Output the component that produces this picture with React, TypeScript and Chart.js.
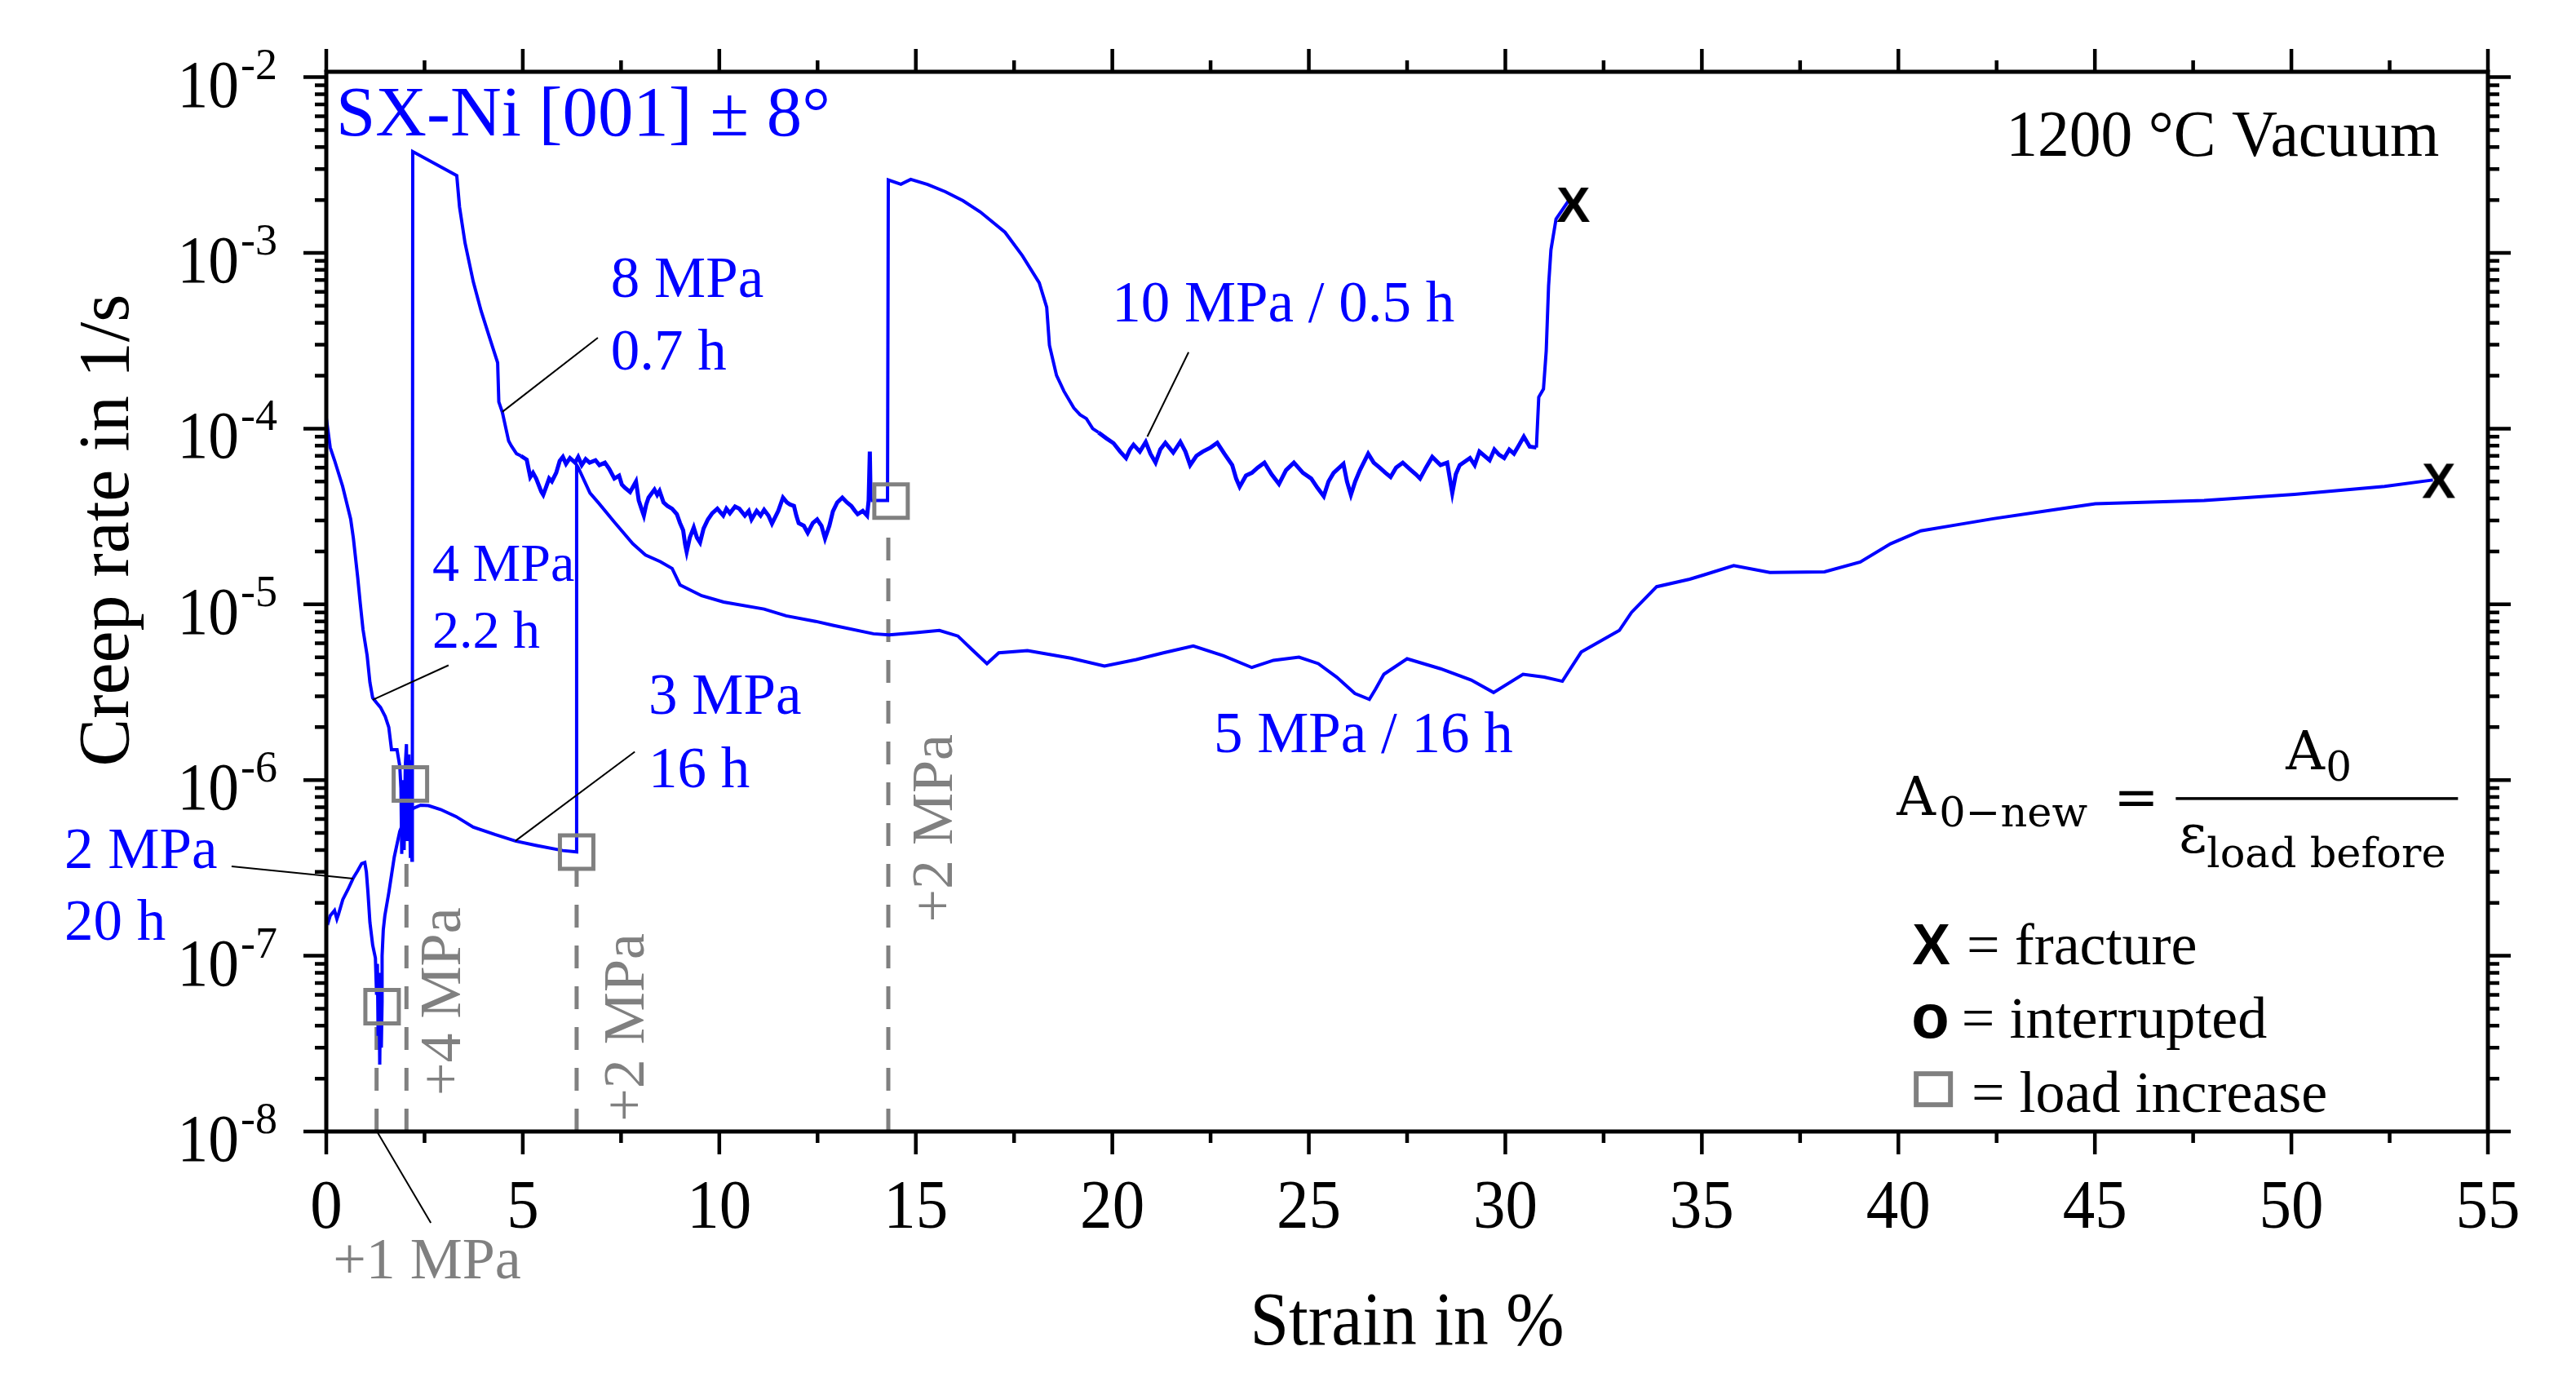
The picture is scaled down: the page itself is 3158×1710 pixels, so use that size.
import React, { useEffect, useRef } from "react";
import { Chart, registerables } from "chart.js";

Chart.register(...registerables);

// ---------------- data (strain in %, creep rate in 1/s) ----------------
// Specimen A: 2 MPa -> +1 MPa (3 MPa) -> +2 MPa (5 MPa)
const A_2MPa: [number, number][] = [
  [0, 1.45e-7], [0, 1.6e-7], [0.05, 1.55e-7], [0.1, 1.69e-7], [0.21, 1.81e-7], [0.27, 1.62e-7],
  [0.31, 1.72e-7], [0.42, 2.09e-7], [0.55, 2.38e-7], [0.69, 2.78e-7], [0.8, 3.05e-7], [0.9, 3.35e-7],
  [0.98, 3.4e-7], [1.02, 3.0e-7], [1.06, 2.3e-7], [1.11, 1.55e-7], [1.18, 1.15e-7], [1.25, 9.7e-8],
  [1.28, 6.0e-8], [1.3, 9.0e-8], [1.32, 3.5e-8], [1.34, 8.0e-8], [1.36, 2.4e-8], [1.38, 6.5e-8],
  [1.4, 3.0e-8], [1.42, 5.5e-8],
];
const A_3MPa: [number, number][] = [
  [1.42, 1.0e-7], [1.45, 1.4e-7], [1.49, 1.69e-7], [1.59, 2.28e-7], [1.73, 3.65e-7], [1.87, 5.1e-7],
  [2.01, 6.1e-7], [2.21, 6.9e-7], [2.4, 7.2e-7], [2.6, 7.15e-7], [2.91, 6.8e-7], [3.3, 6.2e-7],
  [3.74, 5.4e-7], [4.29, 4.9e-7], [4.81, 4.5e-7], [5.33, 4.25e-7], [6.02, 3.97e-7], [6.37, 3.9e-7],
];
const A_5MPa: [number, number][] = [
  [6.37, 6.2e-5], [6.41, 6.0e-5], [6.71, 4.3e-5], [6.93, 3.77e-5], [7.33, 2.94e-5], [7.8, 2.21e-5],
  [8.12, 1.91e-5], [8.5, 1.75e-5], [8.8, 1.6e-5], [9.0, 1.29e-5], [9.55, 1.12e-5], [10.11, 1.03e-5],
  [11.14, 9.4e-6], [11.7, 8.6e-6], [12.45, 8.0e-6], [12.89, 7.6e-6], [13.92, 6.8e-6], [14.32, 6.7e-6],
  [15.0, 6.9e-6], [15.6, 7.1e-6], [16.07, 6.6e-6], [16.44, 5.5e-6], [16.81, 4.6e-6], [17.11, 5.3e-6],
  [17.84, 5.45e-6], [18.94, 4.94e-6], [19.8, 4.45e-6], [20.61, 4.85e-6], [21.3, 5.3e-6], [22.06, 5.8e-6],
  [22.83, 5.1e-6], [23.55, 4.37e-6], [24.1, 4.8e-6], [24.75, 5.0e-6], [25.24, 4.6e-6], [25.71, 3.85e-6],
  [26.17, 3.11e-6], [26.54, 2.88e-6], [26.7, 3.3e-6], [26.91, 4.0e-6], [27.5, 4.9e-6], [28.35, 4.3e-6],
  [29.13, 3.71e-6], [29.7, 3.15e-6], [30.45, 4.0e-6], [30.99, 3.85e-6], [31.45, 3.65e-6], [31.93, 5.35e-6],
  [32.9, 7.1e-6], [33.21, 9.0e-6], [33.85, 1.26e-5], [34.69, 1.39e-5], [35.05, 1.47e-5], [35.81, 1.66e-5],
  [36.73, 1.52e-5], [38.12, 1.53e-5], [39.03, 1.74e-5], [39.8, 2.21e-5], [40.57, 2.62e-5], [41.51, 2.84e-5],
  [42.41, 3.07e-5], [43.94, 3.45e-5], [45.01, 3.74e-5], [47.78, 3.9e-5], [50.08, 4.23e-5], [52.37, 4.69e-5],
  [53.6, 5.1e-5],
];

// Specimen B: 4 MPa -> +4 MPa (8 MPa) -> +2 MPa (10 MPa)
const B_4MPa: [number, number][] = [
  [0, 9.7e-6], [0, 1.15e-4], [0.1, 7.8e-5], [0.21, 6.6e-5], [0.415, 4.7e-5], [0.62, 3.06e-5],
  [0.69, 2.37e-5], [0.8, 1.42e-5], [0.865, 1.01e-5], [0.934, 7.2e-6], [1.04, 5.1e-6], [1.11, 3.6e-6],
  [1.18, 2.94e-6], [1.28, 2.75e-6], [1.38, 2.59e-6], [1.5, 2.3e-6], [1.59, 2.0e-6], [1.66, 1.49e-6],
  [1.8, 1.49e-6], [1.87, 1.2e-6], [1.9, 9.0e-7], [1.92, 3.8e-7], [1.95, 1.0e-6], [1.98, 4.0e-7],
  [2.01, 1.2e-6], [2.04, 1.6e-6], [2.06, 4.5e-7], [2.1, 1.4e-6], [2.14, 3.6e-7], [2.16, 1.3e-6],
  [2.18, 3.5e-7], [2.19, 1.0e-6],
];
const B_8MPa: [number, number][] = [
  [2.2, 3.77e-3], [3.32, 2.75e-3], [3.39, 1.83e-3], [3.53, 1.14e-3], [3.74, 6.85e-4], [3.94, 4.67e-4],
  [4.15, 3.32e-4], [4.36, 2.37e-4], [4.39, 1.42e-4], [4.48, 1.24e-4], [4.64, 8.5e-5], [4.71, 7.97e-5],
  [4.84, 7.2e-5], [4.95, 7.0e-5], [5.1, 6.66e-5], [5.19, 5.3e-5], [5.26, 5.6e-5], [5.34, 5.2e-5],
  [5.47, 4.38e-5], [5.52, 4.2e-5], [5.6, 4.7e-5], [5.67, 5.2e-5], [5.74, 5.0e-5], [5.85, 5.6e-5],
  [5.94, 6.55e-5], [6.02, 6.9e-5], [6.1, 6.3e-5], [6.2, 6.8e-5], [6.33, 6.4e-5], [6.41, 6.9e-5],
  [6.5, 6.2e-5], [6.6, 6.7e-5], [6.7, 6.4e-5], [6.85, 6.6e-5], [6.95, 6.2e-5], [7.09, 6.4e-5],
  [7.2, 5.9e-5], [7.33, 5.2e-5], [7.45, 5.4e-5], [7.52, 4.8e-5], [7.6, 4.6e-5], [7.73, 4.35e-5],
  [7.88, 5.0e-5], [7.95, 3.9e-5], [8.02, 3.5e-5], [8.08, 3.2e-5], [8.14, 3.7e-5], [8.2, 4.05e-5],
  [8.35, 4.5e-5], [8.42, 4.2e-5], [8.48, 4.42e-5], [8.58, 3.8e-5], [8.68, 3.63e-5], [8.8, 3.5e-5],
  [8.92, 3.26e-5], [9.0, 2.9e-5], [9.08, 2.64e-5], [9.13, 2.2e-5], [9.17, 1.99e-5], [9.25, 2.4e-5],
  [9.35, 2.74e-5], [9.43, 2.4e-5], [9.51, 2.25e-5], [9.6, 2.7e-5], [9.71, 3.04e-5], [9.82, 3.3e-5],
  [9.95, 3.5e-5], [10.1, 3.2e-5], [10.18, 3.5e-5], [10.27, 3.3e-5], [10.4, 3.6e-5], [10.51, 3.5e-5],
  [10.65, 3.2e-5], [10.75, 3.4e-5], [10.82, 3.04e-5], [10.95, 3.4e-5], [11.05, 3.2e-5], [11.14, 3.45e-5],
  [11.25, 3.2e-5], [11.34, 2.88e-5], [11.5, 3.4e-5], [11.62, 4.05e-5], [11.72, 3.8e-5], [11.8, 3.7e-5],
  [11.9, 3.63e-5], [11.96, 3.2e-5], [12.02, 2.9e-5], [12.15, 2.8e-5], [12.25, 2.55e-5], [12.38, 2.9e-5],
  [12.49, 3.04e-5], [12.6, 2.8e-5], [12.69, 2.37e-5], [12.8, 2.8e-5], [12.89, 3.38e-5], [13.0, 3.8e-5],
  [13.13, 4.05e-5], [13.25, 3.8e-5], [13.36, 3.63e-5], [13.45, 3.4e-5], [13.52, 3.26e-5], [13.65, 3.4e-5],
  [13.76, 3.2e-5], [13.8, 3.9e-5], [13.83, 7.4e-5], [13.85, 3.9e-5], [14.28, 3.9e-5],
];
const B_10MPa: [number, number][] = [
  [14.3, 2.6e-3], [14.62, 2.46e-3], [14.87, 2.62e-3], [15.3, 2.45e-3], [15.75, 2.23e-3], [16.2, 1.98e-3],
  [16.64, 1.71e-3], [17.27, 1.31e-3], [17.71, 9.65e-4], [18.14, 6.76e-4], [18.33, 4.9e-4], [18.4, 2.98e-4],
  [18.58, 2.01e-4], [18.77, 1.63e-4], [19.02, 1.31e-4], [19.18, 1.2e-4], [19.34, 1.14e-4], [19.5, 1.0e-4],
  [19.65, 9.5e-5], [19.85, 8.8e-5], [20.03, 8.26e-5], [20.2, 7.4e-5], [20.35, 6.8e-5], [20.45, 7.6e-5],
  [20.54, 8.1e-5], [20.7, 7.4e-5], [20.85, 8.4e-5], [20.97, 7.2e-5], [21.1, 6.4e-5], [21.22, 7.6e-5],
  [21.35, 8.3e-5], [21.55, 7.3e-5], [21.73, 8.4e-5], [21.86, 7.4e-5], [21.98, 6.2e-5], [22.14, 7.0e-5],
  [22.3, 7.4e-5], [22.5, 7.8e-5], [22.67, 8.3e-5], [22.85, 7.2e-5], [23.05, 6.2e-5], [23.15, 5.2e-5],
  [23.24, 4.67e-5], [23.4, 5.4e-5], [23.55, 5.6e-5], [23.7, 6.0e-5], [23.87, 6.4e-5], [24.05, 5.5e-5],
  [24.24, 4.84e-5], [24.42, 5.8e-5], [24.62, 6.4e-5], [24.85, 5.6e-5], [25.06, 5.2e-5], [25.22, 4.6e-5],
  [25.38, 4.12e-5], [25.5, 5.0e-5], [25.63, 5.6e-5], [25.88, 6.3e-5], [25.97, 5.0e-5], [26.07, 4.2e-5],
  [26.18, 5.0e-5], [26.3, 5.8e-5], [26.51, 7.2e-5], [26.65, 6.4e-5], [26.8, 6.0e-5], [26.95, 5.6e-5],
  [27.08, 5.3e-5], [27.22, 6.0e-5], [27.39, 6.4e-5], [27.6, 5.8e-5], [27.72, 5.5e-5], [27.83, 5.2e-5],
  [27.98, 6.0e-5], [28.14, 6.9e-5], [28.35, 6.2e-5], [28.52, 6.4e-5], [28.65, 4.3e-5], [28.74, 5.5e-5],
  [28.84, 6.2e-5], [29.1, 6.8e-5], [29.22, 6.2e-5], [29.34, 7.4e-5], [29.6, 6.6e-5], [29.72, 7.6e-5],
  [29.84, 7.1e-5], [29.97, 6.8e-5], [30.1, 7.6e-5], [30.22, 7.2e-5], [30.34, 8.0e-5], [30.47, 9.0e-5],
  [30.62, 7.9e-5], [30.79, 7.8e-5], [30.85, 1.51e-4], [30.97, 1.68e-4], [31.04, 2.77e-4], [31.1, 6.5e-4],
  [31.16, 1.04e-3], [31.29, 1.56e-3], [31.6, 1.97e-3],
];

// markers
const fracturePoints: [number, number][] = [[31.73, 1.9e-3], [53.75, 5.1e-5]];
const loadIncreasePoints: [number, number][] = [[1.42, 5.13e-8], [2.14, 9.5e-7], [6.37, 3.89e-7], [14.37, 3.87e-5]];
const loadLineStrain: number[] = [1.28, 2.04, 6.37, 14.3];
const loadLineTop: number[] = [4.14e-8, 3.67e-7, 3.19e-7, 2.64e-5];

// ranges of strain where the recorded signal is noisy (drawn a little heavier)
const noisyRanges: [number, number][] = [[4.9, 14.25], [19.6, 30.8]];

// axes
const X_MIN = 0;
const X_MAX = 55;
const Y_MIN = 1e-8;
const Y_MAX = 1.073e-2;
const xMajorTicks: number[] = [0, 5, 10, 15, 20, 25, 30, 35, 40, 45, 50, 55];
const xMinorStep = 2.5;
const yDecades: number[] = [-8, -7, -6, -5, -4, -3, -2];

// annotations (positions in data coordinates)
const blueLabels = [
  { text: "SX-Ni [001] \u00B1 8\u00B0", x: 0.25, y: 4.67e-3, size: 86, hs: 1.01 },
  { text: "8 MPa", x: 7.24, y: 5.61e-4, size: 71, hs: 1 },
  { text: "0.7 h", x: 7.24, y: 2.17e-4, size: 71, hs: 1 },
  { text: "4 MPa", x: 2.7, y: 1.36e-5, size: 66, hs: 1 },
  { text: "2.2 h", x: 2.7, y: 5.66e-6, size: 66, hs: 1 },
  { text: "3 MPa", x: 8.2, y: 2.38e-6, size: 71, hs: 1 },
  { text: "16 h", x: 8.2, y: 9.1e-7, size: 71, hs: 1 },
  { text: "2 MPa", x: -6.66, y: 3.16e-7, size: 71, hs: 1 },
  { text: "20 h", x: -6.66, y: 1.23e-7, size: 71, hs: 1 },
  { text: "10 MPa / 0.5 h", x: 19.99, y: 4.07e-4, size: 71, hs: 1 },
  { text: "5 MPa / 16 h", x: 22.58, y: 1.44e-6, size: 71, hs: 1 },
];
const grayLabels = [
  { text: "+1 MPa", x: 0.17, y: 1.46e-9, rotated: false },
  { text: "+4 MPa", x: 3.4, y: 1.6e-8, rotated: true },
  { text: "+2 MPa", x: 8.07, y: 1.14e-8, rotated: true },
  { text: "+2 MPa", x: 15.92, y: 1.55e-7, rotated: true },
];
const leaderLines: [number, number, number, number][] = [
  [6.91, 3.29e-4, 4.48, 1.245e-4],
  [3.11, 4.5e-6, 1.18, 2.86e-6],
  [7.85, 1.45e-6, 4.81, 4.5e-7],
  [-2.41, 3.23e-7, 0.685, 2.75e-7],
  [21.94, 2.72e-4, 20.89, 9.0e-5],
  [1.29, 1e-8, 2.66, 3.02e-9],
];
const conditionText = { text: "1200 \u00B0C Vacuum", x: 53.76, y: 3.57e-3 };
const formulaAnchor = { x: 39.96, y: 6.32e-7 };
const legendRows = [
  { symbol: "X", text: "= fracture", sx: 40.35, tx: 41.74, y: 8.95e-8 },
  { symbol: "o", text: "= interrupted", sx: 40.33, tx: 41.61, y: 3.42e-8 },
  { symbol: "square", text: "= load increase", sx: 40.89, tx: 41.86, y: 1.29e-8 },
];

const BLUE = "#0000ff";
const GRAY = "#808080";
const SERIF = '"Liberation Serif", "Times New Roman", serif';

const toXY = (pts: [number, number][]) => pts.map(([x, y]) => ({ x, y }));

function drawText(
  ctx: CanvasRenderingContext2D,
  s: string,
  x: number,
  y: number,
  font: string,
  color: string,
  align: CanvasTextAlign = "left",
  hs = 1,
  rotate = 0
) {
  ctx.save();
  ctx.translate(x, y);
  if (rotate) ctx.rotate(rotate);
  ctx.scale(hs, 1);
  ctx.font = font;
  ctx.fillStyle = color;
  ctx.textAlign = align;
  ctx.textBaseline = "alphabetic";
  ctx.fillText(s, 0, 0);
  ctx.restore();
}

function makeXMark(): HTMLCanvasElement {
  const c = document.createElement("canvas");
  c.width = 52;
  c.height = 52;
  const g = c.getContext("2d")!;
  g.font = 'bold 62px "Liberation Sans", Arial, sans-serif';
  g.fillStyle = "#000";
  g.textAlign = "center";
  g.textBaseline = "alphabetic";
  g.fillText("X", 26, 26 + 22);
  return c;
}

const framePlugin = {
  id: "frameAndAnnotations",
  afterDraw(chart: any) {
    const { ctx, chartArea: a } = chart;
    const xs = chart.scales.x;
    const ys = chart.scales.y;
    const px = (v: number) => xs.getPixelForValue(v);
    const py = (v: number) => ys.getPixelForValue(v);
    ctx.save();

    // frame
    ctx.strokeStyle = "#000";
    ctx.lineWidth = 5;
    ctx.strokeRect(a.left, a.top, a.right - a.left, a.bottom - a.top);

    // ticks
    ctx.lineWidth = 4.5;
    ctx.beginPath();
    for (let v = X_MIN; v <= X_MAX + 1e-9; v += xMinorStep) {
      const p = px(v);
      const L = xMajorTicks.includes(v) ? 28 : 14;
      ctx.moveTo(p, a.bottom);
      ctx.lineTo(p, a.bottom + L);
      ctx.moveTo(p, a.top);
      ctx.lineTo(p, a.top - L);
    }
    for (const d of yDecades) {
      for (let m = 1; m <= 9; m++) {
        const v = m * Math.pow(10, d);
        if (v > Y_MAX) break;
        const p = py(v);
        const L = m === 1 ? 28 : 14;
        ctx.moveTo(a.left, p);
        ctx.lineTo(a.left - L, p);
        ctx.moveTo(a.right, p);
        ctx.lineTo(a.right + L, p);
      }
    }
    ctx.stroke();

    // tick labels
    for (const v of xMajorTicks) {
      drawText(ctx, String(v), px(v), a.bottom + 118, `85px ${SERIF}`, "#000", "center", 0.93);
    }
    for (const d of yDecades) {
      const p = py(Math.pow(10, d));
      drawText(ctx, "10", a.left - 107, p + 36, `82px ${SERIF}`, "#000", "right", 0.92);
      drawText(ctx, "-" + String(-d), a.left - 105, p + 2, `54px ${SERIF}`, "#000", "left", 1);
    }

    // axis titles
    drawText(ctx, "Strain in %", (a.left + a.right) / 2, a.bottom + 261, `93px ${SERIF}`, "#000", "center", 0.92);
    drawText(ctx, "Creep rate in 1/s", a.left - 243, 650, `88px ${SERIF}`, "#000", "center", 1, -Math.PI / 2);

    // leader lines
    ctx.strokeStyle = "#000";
    ctx.lineWidth = 2;
    ctx.beginPath();
    for (const [x1, y1, x2, y2] of leaderLines) {
      ctx.moveTo(px(x1), py(y1));
      ctx.lineTo(px(x2), py(y2));
    }
    ctx.stroke();

    // blue labels
    for (const l of blueLabels) {
      drawText(ctx, l.text, px(l.x), py(l.y), `${l.size}px ${SERIF}`, BLUE, "left", l.hs);
    }
    // gray labels
    for (const l of grayLabels) {
      drawText(ctx, l.text, px(l.x), py(l.y), `72px ${SERIF}`, GRAY, "left", 1, l.rotated ? -Math.PI / 2 : 0);
    }
    // condition text
    drawText(ctx, conditionText.text, px(conditionText.x), py(conditionText.y), `80px ${SERIF}`, "#000", "right", 0.97);

    // formula
    const fx = px(formulaAnchor.x);
    const fy = py(formulaAnchor.y);
    const MATH = '"DejaVu Serif", serif';
    drawText(ctx, "A", fx, fy, `66px ${MATH}`, "#000");
    drawText(ctx, "0\u2212new", fx + 52, fy + 14, `51px ${MATH}`, "#000");
    drawText(ctx, "=", fx + 266, fy, `66px ${MATH}`, "#000");
    ctx.fillStyle = "#000";
    ctx.fillRect(fx + 342, fy - 22, 346, 3.5);
    drawText(ctx, "A", fx + 477, fy - 56, `66px ${MATH}`, "#000");
    drawText(ctx, "0", fx + 526, fy - 42, `50px ${MATH}`, "#000");
    drawText(ctx, "\u03B5", fx + 346, fy + 46, `66px ${MATH}`, "#000");
    drawText(ctx, "load before", fx + 380, fy + 64, `51px ${MATH}`, "#000");

    // legend rows
    for (const r of legendRows) {
      const sx = px(r.sx);
      const y = py(r.y);
      if (r.symbol === "X") {
        drawText(ctx, "X", sx, y, 'bold 70px "Liberation Sans", Arial, sans-serif', "#000");
      } else if (r.symbol === "o") {
        drawText(ctx, "o", sx, y, 'bold 76px "Liberation Sans", Arial, sans-serif', "#000");
      } else {
        ctx.strokeStyle = GRAY;
        ctx.lineWidth = 6;
        ctx.strokeRect(sx - 21, py(1.74e-8) - 19, 42, 38);
      }
      drawText(ctx, r.text, px(r.tx), y, `72px ${SERIF}`, "#000");
    }

    ctx.restore();
  },
};

const inNoisy = (x: number) => noisyRanges.some(([a, b]) => x >= a && x <= b);

export default function App() {
  const canvasRef = useRef<HTMLCanvasElement | null>(null);

  useEffect(() => {
    const canvas = canvasRef.current;
    if (!canvas) return;
    const xMark = makeXMark();

    const dashed = loadLineStrain.map((s, i) => ({
      data: [
        { x: s, y: Y_MIN },
        { x: s, y: loadLineTop[i] },
      ],
      showLine: true,
      borderColor: GRAY,
      borderWidth: 5,
      borderDash: [28, 22],
      pointRadius: 0,
      order: 3,
    }));

    const chart = new Chart(canvas, {
      type: "scatter",
      data: {
        datasets: [
          {
            data: toXY(fracturePoints),
            pointStyle: xMark as any,
            pointRadius: 20,
            showLine: false,
            order: 0,
          },
          {
            data: toXY(loadIncreasePoints),
            pointStyle: "rect",
            pointRadius: 29,
            borderColor: GRAY,
            borderWidth: 5,
            backgroundColor: "rgba(0,0,0,0)",
            showLine: false,
            order: 1,
          },
          {
            data: toXY([...A_2MPa, ...A_3MPa, ...A_5MPa]),
            showLine: true,
            borderColor: BLUE,
            borderWidth: 4,
            pointRadius: 0,
            tension: 0,
            order: 2,
          },
          {
            data: toXY([...B_4MPa, ...B_8MPa, ...B_10MPa]),
            showLine: true,
            borderColor: BLUE,
            borderWidth: 4,
            pointRadius: 0,
            tension: 0,
            order: 2,
            segment: {
              borderWidth: (c: any) => (inNoisy(c.p0.parsed.x) && inNoisy(c.p1.parsed.x) ? 5 : 4),
            },
          },
          ...dashed,
        ] as any,
      },
      options: {
        animation: false,
        responsive: false,
        devicePixelRatio: 1,
        layout: { padding: { left: 400, right: 108, top: 88, bottom: 323 } },
        plugins: { legend: { display: false }, tooltip: { enabled: false } },
        events: [],
        scales: {
          x: { type: "linear", min: X_MIN, max: X_MAX, display: false },
          y: { type: "logarithmic", min: Y_MIN, max: Y_MAX, display: false },
        },
      },
      plugins: [framePlugin],
    });

    return () => chart.destroy();
  }, []);

  return (
    <div style={{ position: "fixed", left: 0, top: 0, width: 3158, height: 1710, background: "#fff" }}>
      <canvas ref={canvasRef} width={3158} height={1710} style={{ display: "block", width: 3158, height: 1710 }} />
    </div>
  );
}
